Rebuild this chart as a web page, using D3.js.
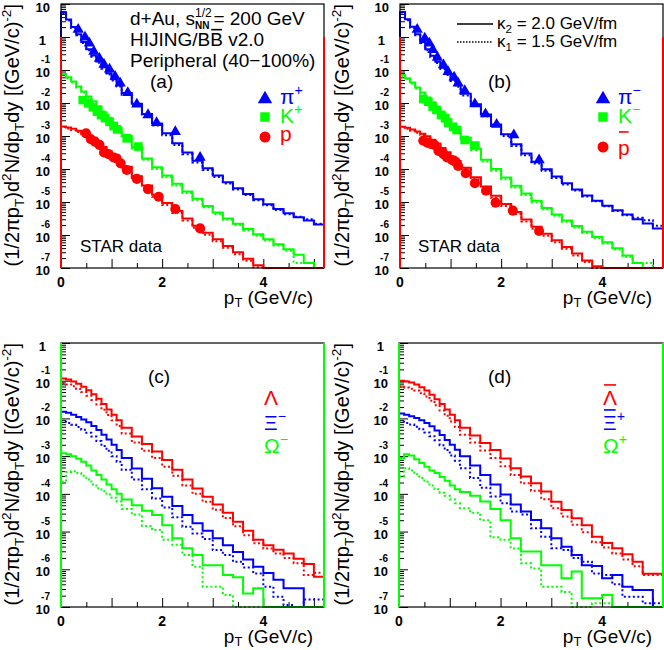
<!DOCTYPE html>
<html>
<head>
<meta charset="utf-8">
<script src="https://cdn.jsdelivr.net/npm/d3@7"></script>
<style>
  body { margin: 0; background: #fff; }
  svg { display: block; }
  text { font-family: "Liberation Sans", Arial, Helvetica, sans-serif; }
</style>
</head>
<body>
<svg id="chart" width="664" height="650"></svg>
<script>
// bin edges of the HIJING/BB histograms (GeV/c)
const ptEdges = [0, 0.1, 0.2, 0.3, 0.4, 0.5, 0.6, 0.7, 0.8, 0.9, 1.0, 1.1, 1.2,
  1.4, 1.6, 1.8, 2.0, 2.2, 2.4, 2.6, 2.8, 3.0, 3.2, 3.4, 3.6, 3.8, 4.0, 4.2, 4.4, 4.6, 4.8, 5.0, 5.2];

// all yields below are log10 of (1/2pi pT) d2N/dpT dy, one value per bin
// (a) positive, kappa2 (solid) / kappa1 (dotted)
const piPlusK2 = [0.75, 0.53, 0.30, 0.08, -0.15, -0.37, -0.56, -0.74, -0.92, -1.10, -1.28, -1.45,
  -1.70, -2.02, -2.33, -2.62, -2.92, -3.22, -3.50, -3.75, -3.98, -4.20, -4.40, -4.58, -4.76, -4.92, -5.07, -5.21, -5.34, -5.46, -5.56, -5.68];
const piPlusK1 = [0.73, 0.50, 0.27, 0.05, -0.18, -0.40, -0.60, -0.78, -0.96, -1.14, -1.32, -1.50,
  -1.75, -2.07, -2.38, -2.68, -2.98, -3.27, -3.55, -3.80, -4.03, -4.24, -4.44, -4.62, -4.79, -4.95, -5.10, -5.24, -5.37, -5.45, -5.52, -5.66];
const kPlusK2 = [-1.12, -1.22, -1.35, -1.50, -1.65, -1.80, -1.95, -2.10, -2.28, -2.45, -2.60, -2.75,
  -3.00, -3.33, -3.68, -3.95, -4.20, -4.45, -4.68, -4.90, -5.12, -5.32, -5.50, -5.66, -5.82, -5.98, -6.13, -6.28, -6.43, -6.60, -6.85, -7.5];
const kPlusK1 = [-1.14, -1.25, -1.38, -1.53, -1.69, -1.84, -1.99, -2.15, -2.32, -2.49, -2.65, -2.80,
  -3.05, -3.38, -3.72, -4.00, -4.25, -4.50, -4.73, -4.95, -5.16, -5.36, -5.54, -5.70, -5.86, -6.02, -6.17, -6.32, -6.48, -6.85, -6.85, -7.5];
const protonK2 = [-2.71, -2.74, -2.78, -2.84, -2.90, -2.98, -3.08, -3.20, -3.33, -3.46, -3.60, -3.73,
  -3.93, -4.22, -4.50, -4.78, -5.03, -5.27, -5.50, -5.72, -5.93, -6.13, -6.33, -6.52, -6.72, -6.92, -7.5, -7.5, -7.5, -7.5, -7.5, -7.5];
const protonK1 = [-2.73, -2.77, -2.82, -2.88, -2.95, -3.03, -3.13, -3.25, -3.38, -3.51, -3.65, -3.78,
  -3.98, -4.28, -4.56, -4.84, -5.09, -5.33, -5.56, -5.78, -5.99, -6.19, -6.39, -6.58, -6.78, -6.98, -7.5, -7.5, -7.5, -7.5, -7.5, -7.5];

// (b) negative
const piMinusK2 = [0.76, 0.54, 0.31, 0.08, -0.15, -0.37, -0.57, -0.75, -0.93, -1.11, -1.29, -1.46,
  -1.72, -2.04, -2.35, -2.65, -2.95, -3.25, -3.53, -3.78, -4.01, -4.23, -4.43, -4.62, -4.80, -4.96, -5.11, -5.25, -5.38, -5.52, -5.65, -5.80];
const piMinusK1 = [0.74, 0.51, 0.28, 0.05, -0.18, -0.40, -0.61, -0.79, -0.97, -1.15, -1.33, -1.51,
  -1.77, -2.09, -2.40, -2.70, -3.00, -3.30, -3.58, -3.83, -4.05, -4.27, -4.47, -4.65, -4.83, -4.98, -5.13, -5.27, -5.40, -5.48, -5.55, -5.72];
const kMinusK2 = [-1.15, -1.25, -1.38, -1.53, -1.68, -1.83, -1.98, -2.14, -2.31, -2.48, -2.64, -2.80,
  -3.05, -3.38, -3.72, -4.00, -4.26, -4.51, -4.74, -4.96, -5.18, -5.38, -5.56, -5.73, -5.90, -6.06, -6.22, -6.40, -6.62, -6.85, -7.5, -7.5];
const kMinusK1 = [-1.17, -1.28, -1.41, -1.56, -1.72, -1.87, -2.03, -2.19, -2.36, -2.53, -2.69, -2.85,
  -3.10, -3.43, -3.77, -4.05, -4.31, -4.56, -4.79, -5.01, -5.22, -5.42, -5.60, -5.77, -5.93, -6.10, -6.26, -6.44, -6.66, -6.85, -6.85, -7.5];
const pbarK2 = [-2.72, -2.75, -2.80, -2.86, -2.93, -3.01, -3.11, -3.23, -3.36, -3.49, -3.63, -3.76,
  -3.96, -4.25, -4.53, -4.81, -5.06, -5.30, -5.53, -5.75, -5.96, -6.16, -6.36, -6.56, -6.77, -6.95, -7.5, -7.5, -7.5, -7.5, -7.5, -7.5];
const pbarK1 = [-2.74, -2.78, -2.84, -2.90, -2.97, -3.06, -3.16, -3.28, -3.41, -3.54, -3.68, -3.81,
  -4.01, -4.31, -4.59, -4.87, -5.12, -5.36, -5.59, -5.81, -6.02, -6.22, -6.42, -6.62, -6.82, -7.0, -7.5, -7.5, -7.5, -7.5, -7.5, -7.5];

// (c) hyperons
const lambdaK2 = [-0.94, -0.97, -1.02, -1.08, -1.16, -1.25, -1.36, -1.48, -1.62, -1.76, -1.90, -2.05,
  -2.25, -2.48, -2.68, -2.88, -3.10, -3.36, -3.62, -3.86, -4.08, -4.28, -4.50, -4.74, -4.98, -5.22, -5.36, -5.48, -5.58, -5.72, -5.86, -6.20];
const lambdaK1 = [-1.07, -1.10, -1.15, -1.22, -1.30, -1.40, -1.51, -1.63, -1.77, -1.91, -2.05, -2.20,
  -2.40, -2.64, -2.86, -3.05, -3.28, -3.52, -3.78, -4.00, -4.21, -4.42, -4.64, -4.86, -5.10, -5.31, -5.45, -5.58, -5.70, -5.84, -6.15, -6.09];
const xiMinusK2 = [-1.82, -1.85, -1.90, -1.96, -2.03, -2.10, -2.20, -2.31, -2.43, -2.56, -2.70, -2.84,
  -3.05, -3.33, -3.60, -3.85, -4.08, -4.32, -4.56, -4.78, -4.98, -5.18, -5.36, -5.54, -5.74, -5.93, -6.10, -6.28, -6.50, -6.50, -7.5, -7.5];
const xiMinusK1 = [-2.09, -2.12, -2.17, -2.23, -2.30, -2.38, -2.48, -2.60, -2.73, -2.86, -3.00, -3.15,
  -3.36, -3.62, -3.88, -4.12, -4.36, -4.62, -4.87, -5.05, -5.20, -5.49, -5.62, -5.80, -5.95, -6.11, -6.46, -6.73, -6.95, -7.5, -6.80, -6.80];
const omegaMinusK2 = [-2.92, -2.95, -3.00, -3.07, -3.15, -3.25, -3.38, -3.50, -3.62, -3.75, -3.88, -4.00,
  -4.15, -4.30, -4.45, -4.56, -4.83, -5.18, -5.44, -5.62, -5.89, -5.89, -6.15, -6.21, -6.64, -6.50, -7.5, -7.5, -7.5, -7.5, -7.5, -7.5];
const omegaMinusK1 = [-3.68, -3.42, -3.40, -3.45, -3.52, -3.62, -3.75, -3.85, -3.93, -4.02, -4.10, -4.20,
  -4.40, -4.55, -4.85, -4.96, -5.22, -5.35, -5.62, -5.93, -6.46, -6.46, -6.68, -7.5, -7.5, -7.5, -7.5, -7.5, -7.5, -7.5, -7.5, -7.5];

// (d) anti-hyperons
const lambdaBarK2 = [-1.00, -1.02, -1.05, -1.10, -1.17, -1.26, -1.37, -1.49, -1.62, -1.76, -1.90, -2.05,
  -2.25, -2.45, -2.65, -2.84, -3.06, -3.32, -3.54, -3.72, -3.94, -4.21, -4.43, -4.65, -4.83, -5.14, -5.30, -5.44, -5.60, -5.80, -6.12, -6.12];
const lambdaBarK1 = [-1.16, -1.18, -1.21, -1.26, -1.33, -1.42, -1.53, -1.65, -1.79, -1.93, -2.08, -2.23,
  -2.43, -2.64, -2.85, -3.05, -3.27, -3.50, -3.72, -3.92, -4.14, -4.38, -4.60, -4.82, -5.02, -5.28, -5.42, -5.58, -5.74, -5.92, -6.15, -6.15];
const xiPlusK2 = [-1.87, -1.90, -1.94, -1.99, -2.05, -2.12, -2.21, -2.32, -2.44, -2.57, -2.70, -2.83,
  -3.00, -3.25, -3.50, -3.75, -4.02, -4.28, -4.47, -4.69, -4.91, -5.18, -5.40, -5.62, -5.89, -5.91, -6.24, -6.15, -6.46, -6.55, -6.55, -7.5];
const xiPlusK1 = [-2.09, -2.12, -2.16, -2.22, -2.29, -2.37, -2.47, -2.58, -2.71, -2.84, -2.98, -3.12,
  -3.32, -3.58, -3.84, -4.07, -4.25, -4.47, -4.55, -4.91, -5.14, -5.44, -5.49, -5.70, -5.80, -6.11, -6.15, -6.40, -6.73, -6.73, -6.90, -6.90];
const omegaPlusK2 = [-3.05, -2.95, -2.98, -3.08, -3.18, -3.28, -3.38, -3.45, -3.55, -3.65, -3.78, -3.88,
  -3.95, -4.05, -4.20, -4.40, -4.70, -5.18, -5.53, -5.53, -5.89, -5.89, -6.24, -6.06, -6.77, -6.77, -6.68, -7.5, -7.5, -7.5, -7.5, -7.5];
const omegaPlusK1 = [-3.54, -3.32, -3.38, -3.48, -3.58, -3.68, -3.78, -3.88, -3.97, -4.05, -4.15, -4.25,
  -4.38, -4.50, -4.70, -5.15, -5.22, -5.45, -5.84, -5.98, -6.46, -6.46, -6.60, -7.5, -7.5, -6.90, -6.90, -7.5, -7.5, -7.5, -7.5, -7.5];

// STAR data points (pT, log10 yield)
const starPiPlusPt = [0.34, 0.475, 0.56, 0.65, 0.76, 0.85, 0.96, 1.07, 1.17, 1.32, 1.50, 1.72, 1.89, 2.26, 2.75];
const starPiPlus = [0.23, -0.01, -0.19, -0.44, -0.65, -0.83, -0.98, -1.20, -1.40, -1.69, -2.04, -2.36, -2.60, -2.87, -3.65];
const starKPlusPt = [0.43, 0.54, 0.63, 0.71, 0.79, 0.87, 0.96, 1.04, 1.11, 1.30, 1.53];
const starKPlus = [-1.91, -2.01, -2.13, -2.26, -2.36, -2.46, -2.57, -2.70, -2.80, -3.07, -3.32];
const starProtonPt = [0.495, 0.59, 0.67, 0.76, 0.85, 0.94, 1.04, 1.10, 1.18, 1.30, 1.50, 1.72, 1.93, 2.26, 2.75];
const starProton = [-2.92, -3.10, -3.17, -3.27, -3.50, -3.55, -3.65, -3.68, -3.83, -4.03, -4.30, -4.61, -4.84, -5.21, -5.80];
const starPiMinusPt = [0.34, 0.49, 0.58, 0.65, 0.74, 0.86, 0.95, 1.07, 1.15, 1.28, 1.48, 1.69, 1.91, 2.25, 2.75];
const starPiMinus = [0.23, -0.04, -0.19, -0.39, -0.62, -0.85, -1.05, -1.22, -1.40, -1.63, -2.03, -2.33, -2.65, -2.97, -3.73];
const starKMinusPt = [0.46, 0.56, 0.645, 0.72, 0.81, 0.89, 0.95, 1.05, 1.12, 1.28, 1.49];
const starKMinus = [-1.88, -1.96, -2.11, -2.21, -2.36, -2.46, -2.60, -2.72, -2.82, -3.12, -3.29];
const starPbarPt = [0.46, 0.54, 0.61, 0.68, 0.76, 0.86, 0.93, 1.03, 1.10, 1.15, 1.30, 1.48, 1.70, 1.89, 2.23, 2.75];
const starPbar = [-3.14, -3.20, -3.24, -3.27, -3.45, -3.55, -3.65, -3.73, -3.78, -3.91, -4.13, -4.43, -4.66, -5.02, -5.26, -5.88];

const xTicks = [0, 0.5, 1, 1.5, 2, 2.5, 3, 3.5, 4, 4.5, 5];
const xTickLabels = [0, 2, 4];

const BLUE = "#0000ff", GREEN = "#00ff00", RED = "#ff0000";

const panels = [
  { left: 61, right: 324, top: 4, bottom: 268, yExp: [-7, 1], tag: "(a)", tagAt: [150, 88], titleX: 19, edge: RED,
    curves: [[piPlusK2, piPlusK1, BLUE], [kPlusK2, kPlusK1, GREEN], [protonK2, protonK1, RED]],
    points: [[starPiPlusPt, starPiPlus, BLUE, "tri"], [starKPlusPt, starKPlus, GREEN, "sq"], [starProtonPt, starProton, RED, "circ"]] },
  { left: 400, right: 663, top: 4, bottom: 268, yExp: [-7, 1], tag: "(b)", tagAt: [488, 88], titleX: 349, edge: RED,
    curves: [[piMinusK2, piMinusK1, BLUE], [kMinusK2, kMinusK1, GREEN], [pbarK2, pbarK1, RED]],
    points: [[starPiMinusPt, starPiMinus, BLUE, "tri"], [starKMinusPt, starKMinus, GREEN, "sq"], [starPbarPt, starPbar, RED, "circ"]] },
  { left: 61, right: 324, top: 343, bottom: 607, yExp: [-7, 0], tag: "(c)", tagAt: [148, 383], titleX: 19, edge: GREEN,
    curves: [[lambdaK2, lambdaK1, RED], [xiMinusK2, xiMinusK1, BLUE], [omegaMinusK2, omegaMinusK1, GREEN]], points: [] },
  { left: 399, right: 663, top: 343, bottom: 607, yExp: [-7, 0], tag: "(d)", tagAt: [488, 383], titleX: 349, edge: GREEN,
    curves: [[lambdaBarK2, lambdaBarK1, RED], [xiPlusK2, xiPlusK1, BLUE], [omegaPlusK2, omegaPlusK1, GREEN]], points: [] }
];

const svg = d3.select("#chart");

// text with ^/_ parts: parts = [[text, "sup"|"sub"|null], ...]
function rich(sel, parts, fs, subShift) {
  let shift = 0;
  parts.forEach(([t, kind]) => {
    const target = kind === "sup" ? -0.42 * fs : kind === "sub" ? (subShift || 0.25) * fs : 0;
    sel.append("tspan").attr("dy", target - shift).attr("font-size", kind ? fs * 0.68 : fs).text(t);
    shift = target;
  });
  return sel;
}

function overline(textSel, idx, color, baseline, fs) {
  const e = textSel.node().getExtentOfChar(idx);
  svg.append("line").attr("x1", e.x + 1).attr("x2", e.x + e.width - 1)
    .attr("y1", baseline - 0.86 * fs).attr("y2", baseline - 0.86 * fs)
    .attr("stroke", color).attr("stroke-width", 1.6);
}

function label(x, y, parts, fs, color) {
  const t = svg.append("text").attr("x", x).attr("y", y).attr("font-size", fs).attr("fill", color || "#000");
  rich(t, parts, fs);
  return t;
}

panels.forEach(p => {
  const x = d3.scaleLinear().domain([0, 5.2]).range([p.left, p.right]);
  const y = d3.scaleLog().domain([10 ** p.yExp[0], 10 ** p.yExp[1]]).range([p.bottom, p.top]).clamp(true);
  const g = svg.append("g");

  // ticks (ROOT style: inside the frame)
  const all = y.ticks();
  const isDecade = v => Math.abs(Math.log10(v) - Math.round(Math.log10(v))) < 1e-9;
  const decades = all.filter(isDecade);
  const minors = all.filter(v => !isDecade(v));
  g.append("g").attr("transform", `translate(${p.left},0)`)
    .call(d3.axisLeft(y).tickValues(minors).tickSize(-5).tickFormat(""))
    .call(a => a.select(".domain").remove());
  g.append("g").attr("transform", `translate(${p.left},0)`)
    .call(d3.axisLeft(y).tickValues(decades).tickSize(-9).tickFormat(""))
    .call(a => a.select(".domain").remove());
  g.append("g").attr("transform", `translate(0,${p.bottom})`)
    .call(d3.axisBottom(x).tickValues(xTicks.filter(v => v % 1 !== 0)).tickSize(-5).tickFormat(""))
    .call(a => a.select(".domain").remove());
  g.append("g").attr("transform", `translate(0,${p.bottom})`)
    .call(d3.axisBottom(x).tickValues(xTicks.filter(v => v % 1 === 0)).tickSize(-9).tickFormat(""))
    .call(a => a.select(".domain").remove());

  // y tick labels: "10" with the exponent set above it
  decades.forEach(v => {
    const e = Math.round(Math.log10(v));
    const ty = y(v);
    if (e === 0) {
      svg.append("text").attr("x", p.left - 15).attr("y", ty + 8).attr("text-anchor", "end")
        .attr("font-size", 13).attr("font-weight", "bold").text("1");
    } else if (e === 1) {
      svg.append("text").attr("x", p.left - 11).attr("y", ty + 8).attr("text-anchor", "end")
        .attr("font-size", 13).attr("font-weight", "bold").text("10");
    } else {
      svg.append("text").attr("x", p.left - 11).attr("y", ty + 7).attr("text-anchor", "end")
        .attr("font-size", 13).attr("font-weight", "bold").text("10");
      svg.append("text").attr("x", p.left - 11).attr("y", ty - 7).attr("text-anchor", "end")
        .attr("font-size", 10).attr("font-weight", "bold").text(String(e));
    }
  });
  xTickLabels.forEach(v => {
    svg.append("text").attr("x", x(v)).attr("y", p.bottom + 19).attr("text-anchor", "middle")
      .attr("font-size", 14).attr("font-weight", "bold").text(v);
  });

  // histograms
  const line = d3.line().curve(d3.curveStepAfter)
    .x(d => x(d[0])).y(d => y(10 ** d[1]));
  const steps = vals => {
    const pts = [[ptEdges[0], -9]];
    vals.forEach((v, i) => pts.push([ptEdges[i], v]));
    pts.push([ptEdges[ptEdges.length - 1], vals[vals.length - 1]]);
    pts.push([ptEdges[ptEdges.length - 1], -9]);
    return pts;
  };
  p.curves.forEach(([solid, dotted, color]) => {
    g.append("path").attr("d", line(steps(dotted))).attr("fill", "none")
      .attr("stroke", color).attr("stroke-width", 2).attr("stroke-dasharray", "2,2.5");
    g.append("path").attr("d", line(steps(solid))).attr("fill", "none")
      .attr("stroke", color).attr("stroke-width", 2);
  });

  // frame
  g.append("rect").attr("x", p.left).attr("y", p.top)
    .attr("width", p.right - p.left).attr("height", p.bottom - p.top)
    .attr("fill", "none").attr("stroke", "#000").attr("stroke-width", 1.2);
  [p.left, p.right].forEach(ex => {
    g.append("line").attr("x1", ex).attr("x2", ex)
      .attr("y1", y(1)).attr("y2", p.bottom)
      .attr("stroke", p.edge).attr("stroke-width", 2);
  });

  // data markers
  const sym = { tri: d3.symbolTriangle, sq: d3.symbolSquare, circ: d3.symbolCircle };
  const size = { tri: 55, sq: 75, circ: 80 };
  p.points.forEach(([pts, vals, color, shape]) => {
    g.selectAll(null).data(pts.map((v, i) => [v, vals[i]])).join("path")
      .attr("transform", d => `translate(${x(d[0])},${y(10 ** d[1])})`)
      .attr("d", d3.symbol(sym[shape], size[shape])).attr("fill", color);
  });

  // titles
  const xt = svg.append("text").attr("x", p.right - 11).attr("y", p.bottom + 36)
    .attr("text-anchor", "end").attr("font-size", 19);
  rich(xt, [["p", null], ["T", "sub"], [" (GeV/c)", null]], 19, 0.18);
  const yt = svg.append("text").attr("transform", `translate(${p.titleX},${p.top}) rotate(-90)`)
    .attr("text-anchor", "end").attr("font-size", 20);
  rich(yt, [["(1/2πp", null], ["T", "sub"], [")d", null], ["2", "sup"], ["N/dp", null], ["T", "sub"],
    ["dy [(GeV/c)", null], ["-2", "sup"], ["]", null]], 20);

  svg.append("text").attr("x", p.tagAt[0]).attr("y", p.tagAt[1]).attr("font-size", 19).text(p.tag);
});

// panel (a) annotations
const t1 = svg.append("text").attr("x", 130).attr("y", 25).attr("font-size", 19);
t1.append("tspan").text("d+Au, s");
const sup = t1.append("tspan").attr("font-size", 12).attr("dy", -8).text("1/2");
const wSup = sup.node().getComputedTextLength();
t1.append("tspan").attr("font-size", 10).attr("font-weight", "bold").attr("dx", -wSup).attr("dy", 12).text("NN");
t1.append("tspan").attr("dy", -4).attr("dx", 4).text("= 200 GeV");
const t2 = svg.append("text").attr("x", 130).attr("y", 46).attr("font-size", 19).text("HIJING/BB v2.0");
overline(t2, 8, "#000", 46, 19);
svg.append("text").attr("x", 130).attr("y", 67).attr("font-size", 19).text("Peripheral (40\u2212100%)");
svg.append("text").attr("x", 80).attr("y", 252).attr("font-size", 17).text("STAR data");
svg.append("text").attr("x", 418).attr("y", 252).attr("font-size", 17).text("STAR data");

// species legends (a), (b)
const mk = (shape, cx, cy, color) => svg.append("path")
  .attr("transform", `translate(${cx},${cy})`)
  .attr("d", d3.symbol({ tri: d3.symbolTriangle, sq: d3.symbolSquare, circ: d3.symbolCircle }[shape],
    { tri: 90, sq: 90, circ: 95 }[shape])).attr("fill", color);
mk("tri", 265, 99, BLUE); mk("sq", 265, 117, GREEN); mk("circ", 265, 137, RED);
label(280, 104, [["π", null], ["+", "sup"]], 21, BLUE);
label(280, 123, [["K", null], ["+", "sup"]], 21, GREEN);
label(280, 141, [["p", null]], 21, RED);
mk("tri", 603, 99, BLUE); mk("sq", 603, 117, GREEN); mk("circ", 603, 147, RED);
label(618, 104, [["π", null], ["\u2212", "sup"]], 21, BLUE);
label(618, 123, [["K", null], ["\u2212", "sup"]], 21, GREEN);
const pb = label(618, 155, [["p", null]], 21, RED);
overline(pb, 0, RED, 150, 21);

// kappa legend (b)
svg.append("line").attr("x1", 457).attr("x2", 493).attr("y1", 24).attr("y2", 24)
  .attr("stroke", "#000").attr("stroke-width", 1.5);
svg.append("line").attr("x1", 457).attr("x2", 493).attr("y1", 42).attr("y2", 42)
  .attr("stroke", "#000").attr("stroke-width", 1.5).attr("stroke-dasharray", "1.5,1.5");
label(497, 29, [["κ", null], ["2", "sub"], [" = 2.0 GeV/fm", null]], 17);
label(497, 47, [["κ", null], ["1", "sub"], [" = 1.5 GeV/fm", null]], 17);

// hyperon legends (c), (d)
label(264, 405, [["Λ", null]], 21, RED);
label(264, 430, [["Ξ", null], ["\u2212", "sup"]], 21, BLUE);
label(264, 453, [["Ω", null], ["\u2212", "sup"]], 21, GREEN);
const lb = label(603, 405, [["Λ", null]], 21, RED);
overline(lb, 0, RED, 403, 21);
const xb = label(603, 430, [["Ξ", null], ["+", "sup"]], 21, BLUE);
overline(xb, 0, BLUE, 428, 21);
label(603, 453, [["Ω", null], ["+", "sup"]], 21, GREEN);
</script>
</body>
</html>
